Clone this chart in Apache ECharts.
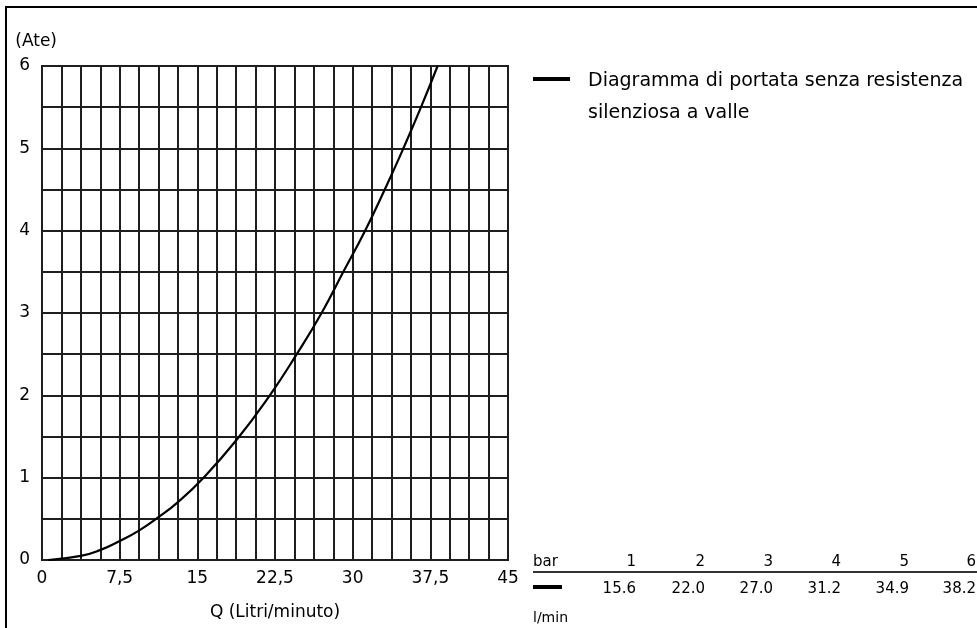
<!DOCTYPE html>
<html>
<head>
<meta charset="utf-8">
<title>Diagramma di portata</title>
<script src="https://cdn.jsdelivr.net/npm/echarts@6/dist/echarts.min.js"></script>
<style>
    html, body { margin: 0; padding: 0; background: #fff; }
    #chart { width: 977px; height: 628px; }
</style>
</head>
<body>
<div id="chart"></div>
<script>
var flowQ = [0.6, 3.75, 5.6, 7.5, 9.4, 11.25, 13.1, 15.6, 18.8, 22.0, 24.6, 27.0, 29.1, 31.2, 33.1, 34.9, 36.6, 38.2];
// pressione (Ate)
var pressure = [0, 0.05, 0.12, 0.23, 0.36, 0.52, 0.70, 1.0, 1.46, 2.0, 2.5, 3.0, 3.5, 4.0, 4.5, 5.0, 5.5, 6.0];

// tabella in basso a destra
var tableBar = ['1', '2', '3', '4', '5', '6'];
var tableFlow = ['15.6', '22.0', '27.0', '31.2', '34.9', '38.2'];

var seriesName = 'Diagramma di portata senza resistenza';
var legendText = 'Diagramma di portata senza resistenza\nsilenziosa a valle';

var FONT = '"DejaVu Sans", Verdana, sans-serif';

(function () {
    var chart = echarts.init(document.getElementById('chart'), null, {renderer: 'canvas'});

    var points = flowQ.map(function (q, i) {
        return [q, pressure[i]];
    });

    var fmtNum = function (v) {
        return String(v).replace('.', ',');
    };

    // tabella bar / l/min
    var tableCols = [636, 705, 773, 841, 909, 976];
    var graphics = [
        // cornice
        {type: 'line', shape: {x1: 6, y1: 7, x2: 977, y2: 7}, style: {stroke: '#000', lineWidth: 2}},
        {type: 'line', shape: {x1: 6, y1: 6, x2: 6, y2: 628}, style: {stroke: '#000', lineWidth: 2}},
        // legenda
        {type: 'rect', shape: {x: 533, y: 77, width: 37, height: 4}, style: {fill: '#000'}},
        {type: 'text', left: 588, top: 65, style: {text: legendText, font: '19px ' + FONT, fill: '#000', lineHeight: 32}},
        // tabella
        {type: 'text', x: 533, y: 562, style: {text: 'bar', font: '15px ' + FONT, fill: '#000', verticalAlign: 'middle'}},
        {type: 'line', shape: {x1: 533, y1: 572, x2: 977, y2: 572}, style: {stroke: '#333', lineWidth: 2}},
        {type: 'rect', shape: {x: 533, y: 585, width: 29, height: 4}, style: {fill: '#000'}},
        {type: 'text', x: 533, y: 618, style: {text: 'l/min', font: '14px ' + FONT, fill: '#000', verticalAlign: 'middle'}}
    ];
    tableBar.forEach(function (b, i) {
        graphics.push({type: 'text', x: tableCols[i], y: 562, style: {text: b, font: '15px ' + FONT, fill: '#000', align: 'right', verticalAlign: 'middle'}});
        graphics.push({type: 'text', x: tableCols[i], y: 589, style: {text: tableFlow[i], font: '15px ' + FONT, fill: '#000', align: 'right', verticalAlign: 'middle'}});
    });

    var option = {
        animation: false,
        backgroundColor: '#fff',
        grid: {
            left: 42,
            top: 66,
            right: 469,
            bottom: 68,
            show: true,
            borderColor: '#1e1e1e',
            borderWidth: 2
        },
        xAxis: {
            type: 'value',
            min: 0,
            max: 45,
            interval: 1.875,
            name: 'Q (Litri/minuto)',
            nameLocation: 'middle',
            nameGap: 44,
            nameTextStyle: {fontFamily: FONT, fontSize: 17, color: '#000'},
            axisLine: {show: true, lineStyle: {color: '#1e1e1e', width: 2}},
            axisTick: {show: false},
            axisLabel: {
                margin: 10,
                fontFamily: FONT,
                fontSize: 17,
                color: '#000',
                showMinLabel: true,
                showMaxLabel: true,
                formatter: function (v) {
                    var k = v / 7.5;
                    return Math.abs(k - Math.round(k)) < 1e-6 ? fmtNum(v) : '';
                }
            },
            splitLine: {show: true, lineStyle: {color: '#1e1e1e', width: 2}}
        },
        yAxis: {
            type: 'value',
            min: 0,
            max: 6,
            interval: 0.5,
            name: '(Ate)',
            nameLocation: 'end',
            nameGap: 16,
            nameTextStyle: {fontFamily: FONT, fontSize: 17, color: '#000', align: 'right', padding: [0, -15, 0, 0]},
            axisLine: {show: true, lineStyle: {color: '#1e1e1e', width: 2}},
            axisTick: {show: false},
            axisLabel: {
                margin: 12,
                fontFamily: FONT,
                fontSize: 17,
                color: '#000',
                formatter: function (v) {
                    return Math.abs(v - Math.round(v)) < 1e-6 ? String(v) : '';
                }
            },
            splitLine: {show: true, lineStyle: {color: '#1e1e1e', width: 2}}
        },
        series: [{
            name: seriesName,
            type: 'line',
            data: points,
            smooth: 0.5,
            showSymbol: false,
            symbol: 'none',
            lineStyle: {color: '#000', width: 2.2},
            z: 5
        }],
        graphic: graphics
    };

    chart.setOption(option);
})();
</script>
</body>
</html>
